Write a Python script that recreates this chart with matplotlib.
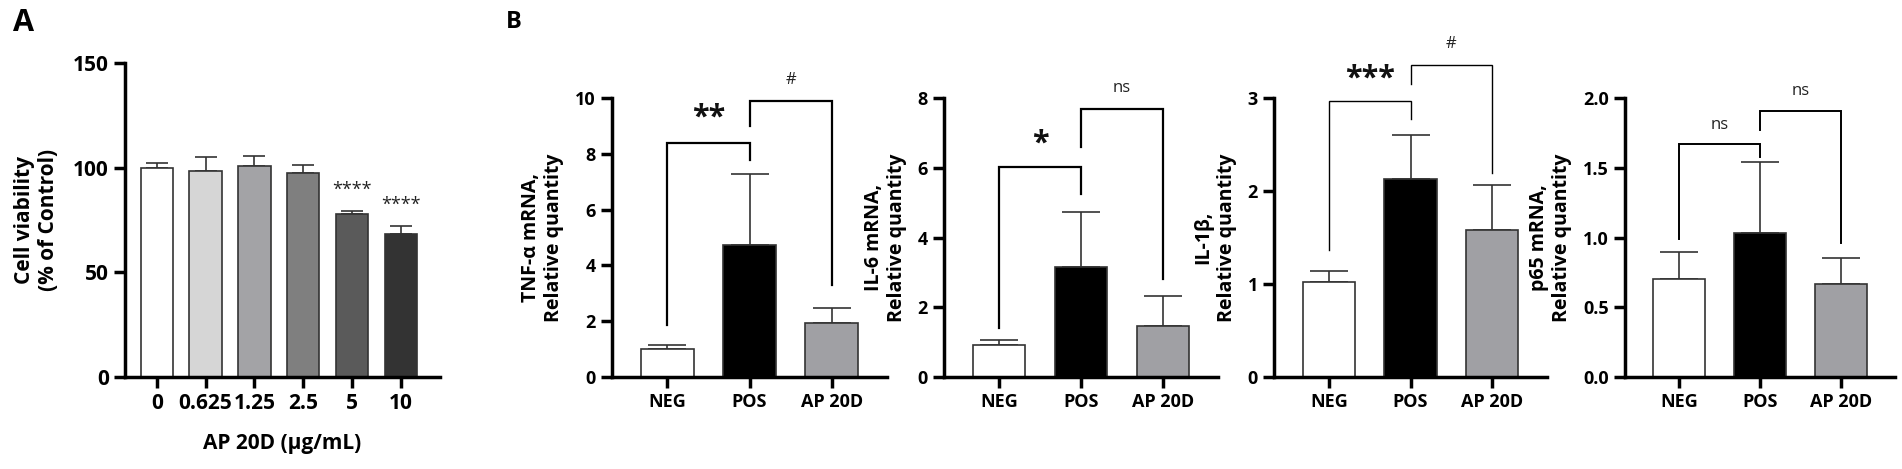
import matplotlib
matplotlib.use('Agg')
import matplotlib.pyplot as plt

plt.rcParams['font.family'] = ['Open Sans', 'DejaVu Sans']

# Panel A data
conc_labels = ['0', '0.625', '1.25', '2.5', '5', '10']
viability = [100, 98.5, 100.8, 97.5, 77.8, 68.5]
viability_err = [2.0, 6.5, 4.6, 3.8, 1.5, 3.4]
viability_sig = ['', '', '', '', '****', '****']
conc_colors = ['#ffffff', '#d6d6d6', '#a3a3a6', '#7f7f7f', '#5a5a5a', '#333333']

# Panel B data
groups = ['NEG', 'POS', 'AP 20D']
group_colors = ['#ffffff', '#000000', '#a0a0a4']

tnf = [1.0, 4.73, 1.92]
tnf_err = [0.14, 2.55, 0.57]
il6 = [0.93, 3.15, 1.47]
il6_err = [0.13, 1.58, 0.86]
il1b = [1.02, 2.13, 1.58]
il1b_err = [0.12, 0.47, 0.48]
p65 = [0.70, 1.035, 0.67]
p65_err = [0.195, 0.505, 0.185]

# bracket: (bar_a, bar_b, top, leg_a_bottom, leg_b_bottom, label, label_y)
tnf_br = [(0, 1, 8.4, 1.86, 7.78, '**', 8.75), (1, 2, 9.9, 9.0, 3.3, '#', 10.35)]
il6_br = [(0, 1, 6.03, 1.41, 5.24, '*', 6.25), (1, 2, 7.69, 6.59, 2.81, 'ns', 8.05)]
il1b_br = [(0, 1, 2.97, 1.37, 2.77, '***', 3.05), (1, 2, 3.36, 3.15, 2.19, '#', 3.5)]
p65_br = [(0, 1, 1.67, 0.99, 1.58, 'ns', 1.75), (1, 2, 1.91, 1.77, 0.96, 'ns', 1.99)]

W, H = 1902, 469
fig = plt.figure(figsize=(W / 100, H / 100), dpi=100)


def make_ax(x0, x1, ytop, ybot):
    return fig.add_axes([x0 / W, 1 - ybot / H, (x1 - x0) / W, (ybot - ytop) / H])


def style_ax(ax, tick_size):
    for s in ['top', 'right']:
        ax.spines[s].set_visible(False)
    for s in ['left', 'bottom']:
        ax.spines[s].set_linewidth(2.5)
    ax.tick_params(axis='both', width=2.5, length=8, direction='out',
                   labelsize=tick_size)
    for lab in ax.get_xticklabels() + ax.get_yticklabels():
        lab.set_fontweight('bold')


# ---------- Panel A ----------
axA = make_ax(125, 440, 63, 377)
xs = range(len(conc_labels))
axA.bar(xs, viability, width=0.66, color=conc_colors, edgecolor='#333333',
        linewidth=1.2, zorder=2)
axA.errorbar(xs, viability, yerr=[[0] * 6, viability_err], fmt='none',
             ecolor='#333333', elinewidth=1.2, capsize=8, capthick=1.2, zorder=1)
for i, s in enumerate(viability_sig):
    if s:
        axA.text(i, viability[i] + viability_err[i] + 6, s, ha='center',
                 va='bottom', fontsize=13, color='#222222')
axA.set_xlim(-0.65, 5.8)
axA.set_ylim(0, 150)
axA.set_yticks([0, 50, 100, 150])
axA.set_xticks(list(xs))
axA.set_xticklabels(conc_labels)
style_ax(axA, 15)
axA.set_ylabel('Cell viability\n(% of Control)', fontsize=15, fontweight='bold',
               labelpad=10)
axA.set_xlabel('AP 20D (μg/mL)', fontsize=15, fontweight='bold', labelpad=14)
fig.text(13 / W, 1 - 8 / H, 'A', fontsize=22, fontweight='bold', va='top')
fig.text(506 / W, 1 - 10 / H, 'B', fontsize=17, fontweight='bold', va='top')

# ---------- Panel B ----------
panels = [
    (612, 887, tnf, tnf_err, tnf_br, 'TNF-α mRNA,\nRelative quantity',
     10, [0, 2, 4, 6, 8, 10], '{:.0f}', 1.6),
    (944, 1218, il6, il6_err, il6_br, 'IL-6 mRNA,\nRelative quantity',
     8, [0, 2, 4, 6, 8], '{:.0f}', 1.6),
    (1274, 1547, il1b, il1b_err, il1b_br, 'IL-1β,\nRelative quantity',
     3, [0, 1, 2, 3], '{:.0f}', 1.0),
    (1625, 1895, p65, p65_err, p65_br, 'p65 mRNA,\nRelative quantity',
     2, [0, 0.5, 1.0, 1.5, 2.0], '{:.1f}', 1.4),
]

for x0, x1, vals, errs, brs, ylab, ymax, yt, fmt, blw in panels:
    ax = make_ax(x0, x1, 98, 377)
    gx = range(len(groups))
    ax.bar(gx, vals, width=0.64, color=group_colors, edgecolor='#333333',
           linewidth=1.2, zorder=2)
    ax.errorbar(gx, vals, yerr=[[0] * 3, errs], fmt='none', ecolor='#333333',
                elinewidth=1.2, capsize=14, capthick=1.2, zorder=1)
    ax.set_xlim(-0.67, 2.67)
    ax.set_ylim(0, ymax)
    ax.set_yticks(yt)
    ax.set_yticklabels([fmt.format(v) for v in yt])
    ax.set_xticks(list(gx))
    ax.set_xticklabels(groups)
    style_ax(ax, 13)
    ax.set_ylabel(ylab, fontsize=14, fontweight='bold', labelpad=8)
    for a, b, top, la, lb, lab, ly in brs:
        ax.plot([a, a, b, b], [la, top, top, lb], color='black', lw=blw,
                clip_on=False, solid_joinstyle='miter')
        if '*' in lab:
            ax.text((a + b) / 2, ly, lab, ha='center', va='bottom',
                    fontsize=22, fontweight='bold', color='#111111')
        else:
            ax.text((a + b) / 2, ly, lab, ha='center', va='bottom',
                    fontsize=12, color='#222222')

fig.savefig('out.png', dpi=100)
